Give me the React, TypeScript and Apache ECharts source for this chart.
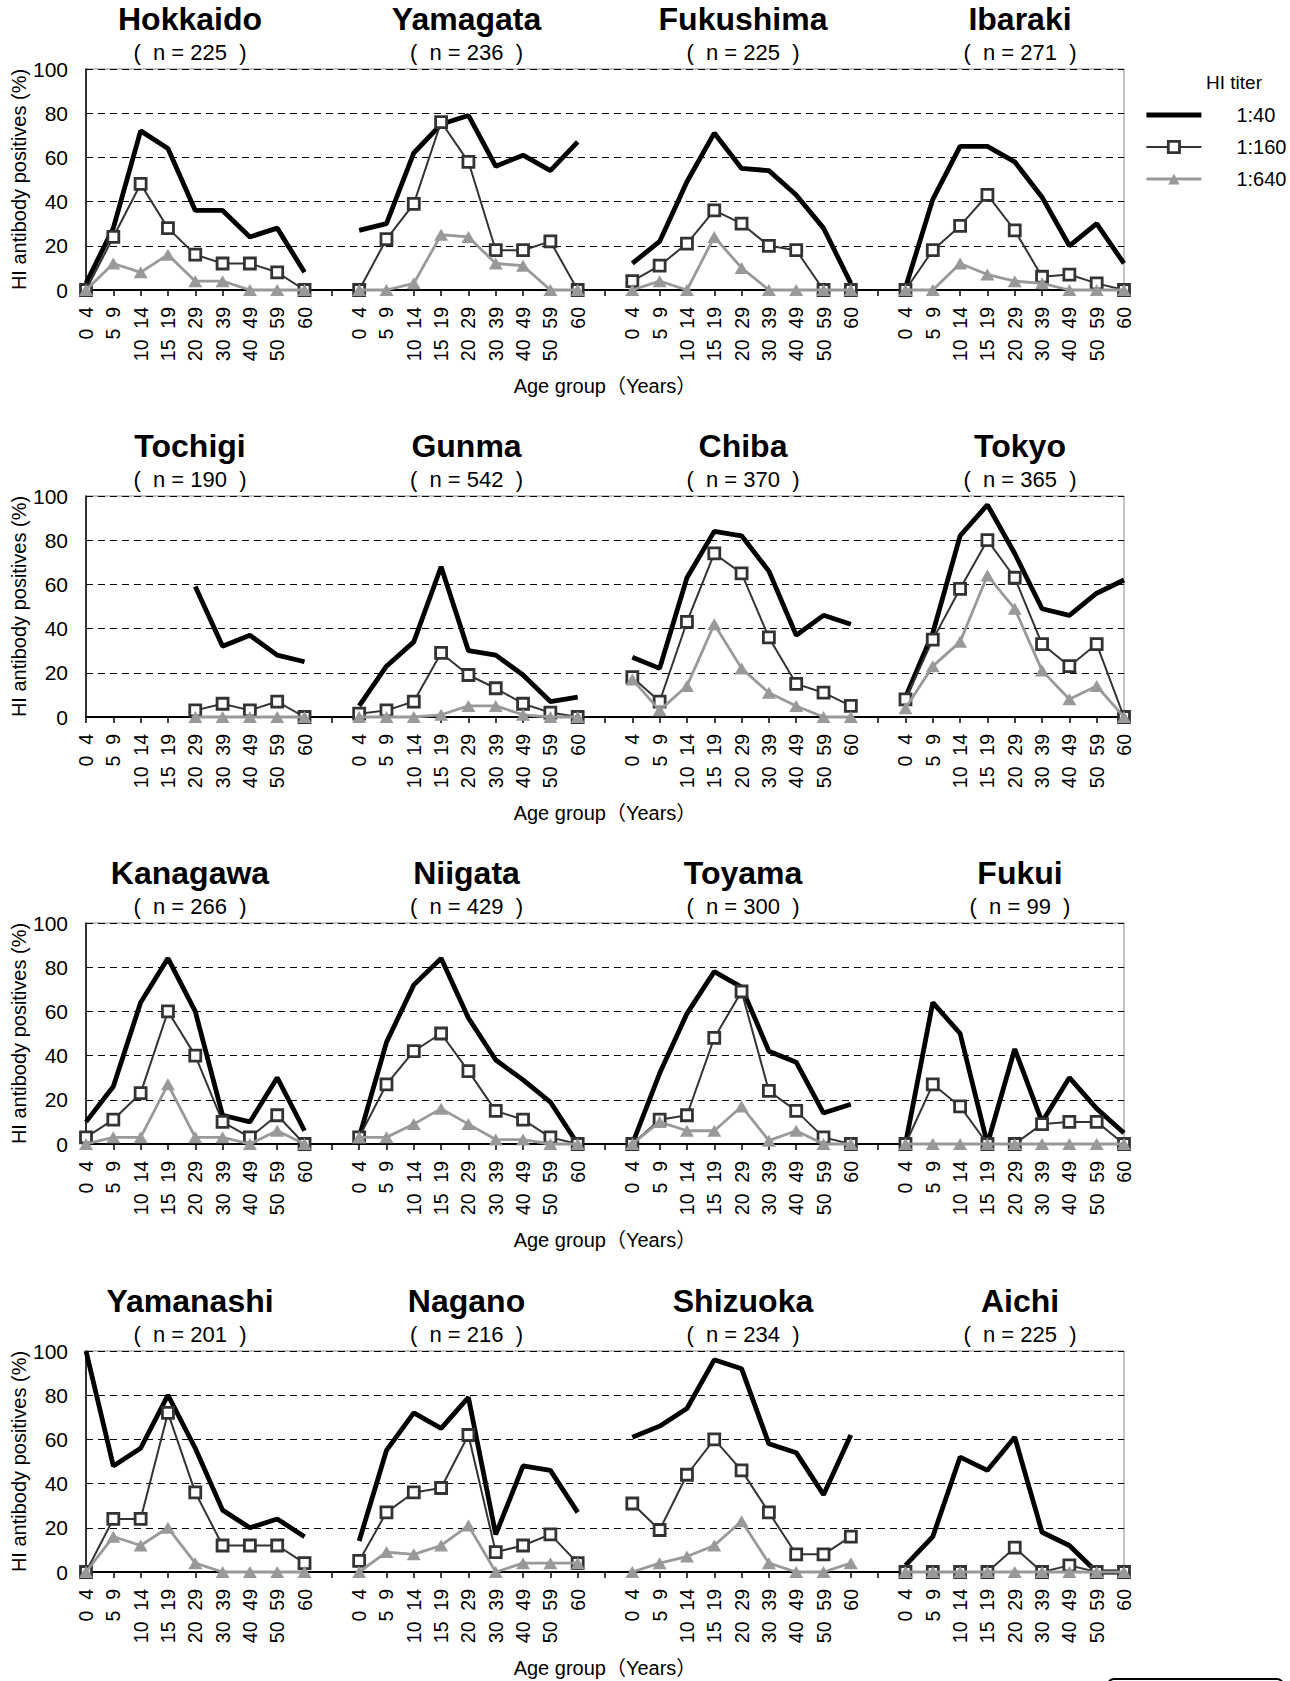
import React, { useEffect, useRef } from "react";
import * as echarts from "echarts";

const AGE_GROUPS = ["0  4", "5  9", "10  14", "15  19", "20  29", "30  39", "40  49", "50  59", "60"];
const PREFECTURES = [
  "Hokkaido", "Yamagata", "Fukushima", "Ibaraki",
  "Tochigi", "Gunma", "Chiba", "Tokyo",
  "Kanagawa", "Niigata", "Toyama", "Fukui",
  "Yamanashi", "Nagano", "Shizuoka", "Aichi",
];
const SAMPLE_SIZES = [225, 236, 225, 271, 190, 542, 370, 365, 266, 429, 300, 99, 201, 216, 234, 225];
const TITER_LABELS = ["1:40", "1:160", "1:640"];
const Y_TICKS = [0, 20, 40, 60, 80, 100];

// HI antibody positives (%) per prefecture, by age group
const TITER_40 = [
  [3, 28, 72, 64, 36, 36, 24, 28, 8],
  [27, 30, 62, 75, 79, 56, 61, 54, 67],
  [12, 22, 49, 71, 55, 54, 43, 28, 3],
  [1, 41, 65, 65, 58, 42, 20, 30, 12],
  [null, null, null, null, 59, 32, 37, 28, 25],
  [5, 23, 34, 68, 30, 28, 19, 7, 9],
  [27, 22, 63, 84, 82, 66, 37, 46, 42],
  [9, 38, 82, 96, 74, 49, 46, 56, 62],
  [10, 26, 64, 84, 60, 13, 10, 30, 6],
  [3, 46, 72, 84, 57, 38, 29, 19, 0],
  [0, 32, 59, 78, 71, 42, 37, 14, 18],
  [0, 64, 50, 0, 43, 10, 30, 16, 5],
  [100, 48, 56, 80, 56, 28, 20, 24, 16],
  [14, 55, 72, 65, 79, 17, 48, 46, 27],
  [61, 66, 74, 96, 92, 58, 54, 35, 62],
  [3, 16, 52, 46, 61, 18, 12, 0, 0],
];

const TITER_160 = [
  [0, 24, 48, 28, 16, 12, 12, 8, 0],
  [0, 23, 39, 76, 58, 18, 18, 22, 0],
  [4, 11, 21, 36, 30, 20, 18, 0, 0],
  [0, 18, 29, 43, 27, 6, 7, 3, 0],
  [null, null, null, null, 3, 6, 3, 7, 0],
  [1.5, 3, 7, 29, 19, 13, 6, 2, 0],
  [18, 7, 43, 74, 65, 36, 15, 11, 5],
  [8, 35, 58, 80, 63, 33, 23, 33, 0],
  [3, 11, 23, 60, 40, 10, 3, 13, 0],
  [3, 27, 42, 50, 33, 15, 11, 3, 0],
  [0, 11, 13, 48, 69, 24, 15, 3, 0],
  [0, 27, 17, 0, 0, 9, 10, 10, 0],
  [0, 24, 24, 72, 36, 12, 12, 12, 4],
  [5, 27, 36, 38, 62, 9, 12, 17, 4],
  [31, 19, 44, 60, 46, 27, 8, 8, 16],
  [0, 0, 0, 0, 11, 0, 3, 0, 0],
];

const TITER_640 = [
  [0, 12, 8, 16, 4, 4, 0, 0, 0],
  [0, 0, 3, 25, 24, 12, 11, 0, 0],
  [0, 4, 0, 24, 10, 0, 0, 0, 0],
  [0, 0, 12, 7, 4, 3, 0, 0, 0],
  [null, null, null, null, 0, 0, 0, 0, 0],
  [0, 0, 0, 1, 5, 5, 1, 0, 0],
  [17, 3, 14, 42, 22, 11, 5, 0, 0],
  [4, 23, 34, 64, 49, 21, 8, 14, 0],
  [0, 3, 3, 27, 3, 3, 0, 6, 0],
  [3, 3, 9, 16, 9, 2, 2, 0, 0],
  [0, 10, 6, 6, 17, 1.5, 6, 0, 0],
  [0, 0, 0, 0, 0, 0, 0, 0, 0],
  [0, 16, 12, 20, 4, 0, 0, 0, 0],
  [0, 9, 8, 12, 21, 0, 4, 4, 4],
  [0, 4, 7, 12, 23, 4, 0, 0, 4],
  [0, 0, 0, 0, 0, 0, 0, 0, 0],
];

const W = 1290;
const H = 1681;
const GRID_LEFT = 86;
const GRID_WIDTH = 1038;
const GRID_HEIGHT = 221;
const ROW_TOPS = [69, 496, 923, 1351];
const TITLE_X = [190, 466.5, 743, 1020];
const FONT = "'Liberation Sans', Arial, 'Noto Sans CJK JP', sans-serif";
const PER_ROW = 4;

const CATEGORIES: string[] = [];
for (let p = 0; p < PER_ROW; p++) {
  CATEGORIES.push(...AGE_GROUPS);
  if (p < PER_ROW - 1) CATEGORIES.push("");
}

function rowData(src: (number | null)[][], row: number) {
  const out: (number | null)[] = [];
  for (let p = 0; p < PER_ROW; p++) {
    out.push(...src[row * PER_ROW + p]);
    if (p < PER_ROW - 1) out.push(null);
  }
  return out.map((v) => (v === null ? "-" : v));
}

const SERIES_STYLE: any[] = [
  {
    symbol: "none",
    lineStyle: { color: "#000", width: 4.8 },
    itemStyle: { color: "#000" },
    z: 2,
  },
  {
    symbol: "rect",
    symbolSize: 11,
    lineStyle: { color: "#333", width: 2 },
    itemStyle: { color: "#fff", borderColor: "#333", borderWidth: 2.8 },
    z: 3,
  },
  {
    symbol: "triangle",
    symbolSize: [14, 12],
    lineStyle: { color: "#999", width: 2.8 },
    itemStyle: { color: "#999", borderWidth: 0 },
    z: 4,
  },
];

function buildOption() {
  const grids: any[] = [];
  const xAxes: any[] = [];
  const yAxes: any[] = [];
  const series: any[] = [];
  const graphics: any[] = [];
  const sources = [TITER_40, TITER_160, TITER_640];

  ROW_TOPS.forEach((top, r) => {
    grids.push({
      left: GRID_LEFT,
      top,
      width: GRID_WIDTH,
      height: GRID_HEIGHT,
      show: true,
      borderColor: "#888",
      borderWidth: 1,
      backgroundColor: "transparent",
      containLabel: false,
      outerBoundsMode: "none",
    });
    xAxes.push({
      type: "category",
      gridIndex: r,
      data: CATEGORIES,
      boundaryGap: false,
      name: "Age group（Years）",
      nameLocation: "middle",
      nameGap: 86,
      nameMoveOverlap: false,
      nameTextStyle: { fontSize: 20, color: "#000", fontFamily: FONT },
      axisLine: { show: true, lineStyle: { color: "#000", width: 2 } },
      axisTick: { show: true, alignWithLabel: true, interval: 0, length: 6, lineStyle: { color: "#000", width: 1.5 } },
      axisLabel: {
        interval: 0,
        rotate: 90,
        margin: 17,
        fontSize: 19.5,
        color: "#000",
        fontFamily: FONT,
      },
      splitLine: { show: false },
    });
    yAxes.push({
      type: "value",
      gridIndex: r,
      min: 0,
      max: 100,
      interval: 20,
      name: "HI antibody positives (%)",
      nameLocation: "middle",
      nameGap: 57,
      nameMoveOverlap: false,
      nameTextStyle: { fontSize: 20, color: "#000", fontFamily: FONT },
      axisLine: { show: true, lineStyle: { color: "#000", width: 1.5 } },
      axisTick: { show: false },
      axisLabel: {
        fontSize: 21,
        margin: 18,
        color: "#000",
        fontFamily: FONT,
        formatter: (v: number) => (Y_TICKS.includes(v) ? String(v) : ""),
      },
      splitLine: { show: true, lineStyle: { color: "#000", width: 1, type: [7, 5] } },
    });
    sources.forEach((src, t) => {
      series.push({
        type: "line",
        name: TITER_LABELS[t],
        xAxisIndex: r,
        yAxisIndex: r,
        data: rowData(src, r),
        connectNulls: false,
        clip: false,
        silent: true,
        emphasis: { disabled: true },
        ...SERIES_STYLE[t],
      });
    });
    for (let p = 0; p < PER_ROW; p++) {
      const idx = r * PER_ROW + p;
      graphics.push({
        type: "text",
        x: TITLE_X[p],
        y: top - 50,
        style: {
          text: PREFECTURES[idx],
          align: "center",
          verticalAlign: "middle",
          fontSize: 32,
          fontWeight: "bold",
          fontFamily: FONT,
          fill: "#000",
        },
      });
      graphics.push({
        type: "text",
        x: TITLE_X[p],
        y: top - 17,
        style: {
          text: "(  n = " + SAMPLE_SIZES[idx] + "  )",
          align: "center",
          verticalAlign: "middle",
          fontSize: 22,
          fontFamily: FONT,
          fill: "#000",
        },
      });
    }
  });

  graphics.push({
    type: "text",
    x: 1234,
    y: 82,
    style: { text: "HI titer", align: "center", verticalAlign: "middle", fontSize: 19, fontFamily: FONT, fill: "#000" },
  });
  graphics.push({
    type: "rect",
    shape: { x: 1108, y: 1679, width: 175, height: 40, r: 6 },
    style: { fill: "none", stroke: "#000", lineWidth: 2 },
  });

  return {
    animation: false,
    backgroundColor: "#fff",
    textStyle: { fontFamily: FONT },
    grid: grids,
    xAxis: xAxes,
    yAxis: yAxes,
    legend: {
      orient: "vertical",
      left: 1144,
      top: 105,
      padding: 0,
      itemWidth: 55,
      itemHeight: 14,
      itemGap: 12,
      selectedMode: false,
      textStyle: { fontSize: 20, color: "#000", fontFamily: FONT, padding: [0, 0, 0, 30] },
      itemStyle: { borderWidth: "inherit" },
      lineStyle: { width: "inherit" },
      data: [
        { name: "1:40", itemStyle: { opacity: 0 } },
        { name: "1:160" },
        { name: "1:640" },
      ],
    },
    series,
    graphic: graphics,
  };
}

export default function App() {
  const ref = useRef<HTMLDivElement>(null);
  useEffect(() => {
    if (!ref.current) return;
    const chart = echarts.init(ref.current, undefined, { renderer: "svg", width: W, height: H });
    chart.setOption(buildOption() as any);
    return () => chart.dispose();
  }, []);
  return (
    <div
      ref={ref}
      style={{ position: "absolute", left: 0, top: 0, width: W, height: H, background: "#fff" }}
    />
  );
}
